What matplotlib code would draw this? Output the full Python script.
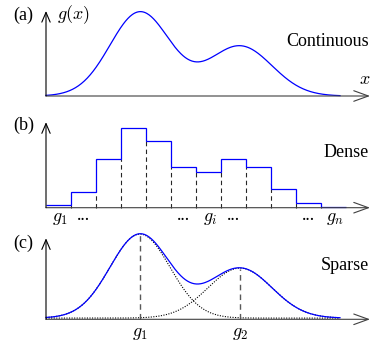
import numpy as np
import matplotlib
matplotlib.use("Agg")
import matplotlib.pyplot as plt

# x in units of one histogram bin (25 px), y in pixels above the axis
bin_heights = [2.7, 15.7, 48.3, 79.3, 67.0, 40.3, 35.7, 48.3, 40.3, 18.3, 4.3, 1.0]
bin_labels = ["$g_1$", "...", "", "", "", "...", "$g_i$", "...", "", "", "...", "$g_n$"]

peak_centers = [3.76, 7.76]
peak_heights = [84.0, 50.0]
peak_widths = [1.2, 1.28]
peak_labels = ["$g_1$", "$g_2$"]

curve_end = 11.76
panel_names = ["(a)", "(b)", "(c)"]
panel_titles = ["Continuous", "Dense", "Sparse"]

W, H = 373, 341
BIN_PX = 25.0
X0_PX = 46.0

plt.rcParams["font.family"] = ["Liberation Serif", "DejaVu Serif"]
plt.rcParams["mathtext.fontset"] = "cm"
FS = 13


def components(x):
    return [a * np.exp(-((x - c) ** 2) / (2 * s ** 2))
            for c, a, s in zip(peak_centers, peak_heights, peak_widths)]


def make_panel(fig, top, bottom, axis_y):
    ax = fig.add_axes([0, 1 - bottom / H, 1, (bottom - top) / H])
    ax.set_xlim(-X0_PX / BIN_PX, (W - X0_PX) / BIN_PX)
    ax.set_ylim(-(bottom - axis_y), axis_y - top)
    ax.axis("off")
    return ax


def draw_axes(ax, ytip):
    xtip = (370 - X0_PX) / BIN_PX
    ax.annotate("", xy=(xtip, 0), xytext=(0, 0),
                arrowprops=dict(arrowstyle="->,head_length=10.5,head_width=3.8",
                                mutation_scale=1, lw=0.8, color="0.25",
                                shrinkA=0, shrinkB=0), zorder=5)
    ax.annotate("", xy=(0, ytip), xytext=(0, 0),
                arrowprops=dict(arrowstyle="->,head_length=7,head_width=3",
                                mutation_scale=1, lw=0.8, color="black",
                                shrinkA=0, shrinkB=0), zorder=5)


def main() -> None:
    fig = plt.figure(figsize=(W / 100, H / 100), dpi=100)
    fig.patch.set_facecolor("white")

    xs = np.linspace(0, curve_end, 400)
    right = (369 - X0_PX) / BIN_PX
    left = (13 - X0_PX) / BIN_PX

    # (a) continuous
    ax = make_panel(fig, 0, 110, 96)
    comps = components(xs)
    ax.plot(xs, comps[0] + comps[1], color="blue", lw=0.9)
    draw_axes(ax, 85)
    ax.text(left, 81, panel_names[0], fontsize=FS, ha="left", va="center")
    ax.text((74 - X0_PX) / BIN_PX, 81, "$g(x)$", fontsize=FS, ha="center", va="center")
    ax.text(right, 55, panel_titles[0], fontsize=FS, ha="right", va="center")
    ax.text((365 - X0_PX) / BIN_PX, 17, "$x$", fontsize=FS, ha="center", va="center")

    # (b) dense
    ax = make_panel(fig, 110, 225, 207.7)
    edges = np.arange(len(bin_heights) + 1)
    for i in range(1, len(bin_heights)):
        ax.vlines(edges[i], 0, min(bin_heights[i - 1], bin_heights[i]),
                  color="0.15", lw=0.8, linestyles=(0, (4, 3)))
    ax.stairs(bin_heights, edges, baseline=None, color="blue", lw=0.9, zorder=4)
    draw_axes(ax, 85.5)
    for i, lab in enumerate(bin_labels):
        if not lab:
            continue
        if lab == "...":
            ax.text(edges[i] + 0.5, -12, lab, fontsize=FS, ha="center", va="baseline")
        else:
            ax.text(edges[i] + 0.55, -2.5, lab, fontsize=FS, ha="center", va="top")
    ax.text(left, 82.7, panel_names[1], fontsize=FS, ha="left", va="center")
    ax.text(right, 54.7, panel_titles[1], fontsize=FS, ha="right", va="center")

    # (c) sparse
    ax = make_panel(fig, 225, 341, 319.3)
    base = 1.2
    comps = components(xs)
    for c in comps:
        ax.plot(xs, c + base, color="black", lw=0.8, ls=(0, (1, 1.3)))
    ax.plot(xs, comps[0] + comps[1] + base, color="blue", lw=0.9)
    for c, a, lab in zip(peak_centers, peak_heights, peak_labels):
        ax.vlines(c, 0, a, color="0.35", lw=1.0, linestyles=(0, (4, 3)))
        ax.text(c, -5.5, lab, fontsize=FS, ha="center", va="top")
    draw_axes(ax, 81)
    ax.text(left, 76.3, panel_names[2], fontsize=FS, ha="left", va="center")
    ax.text(right, 53.6, panel_titles[2], fontsize=FS, ha="right", va="center")

    fig.savefig("out.png", dpi=100)
    plt.close(fig)


if __name__ == "__main__":
    main()
